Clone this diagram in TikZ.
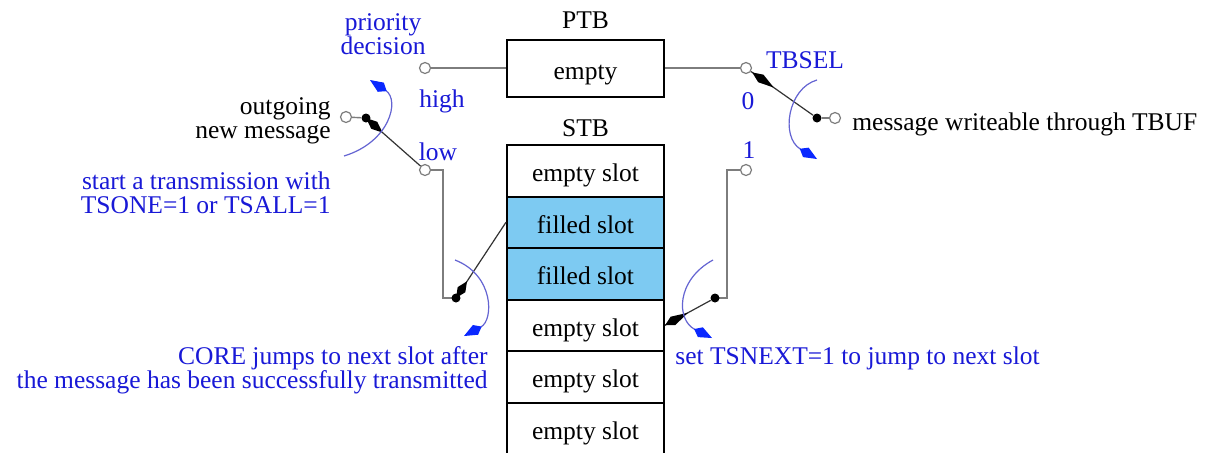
\documentclass[tikz,border=0pt]{standalone}
\usepackage{fontspec}
\setmainfont{Liberation Serif}
\usetikzlibrary{calc,arrows.meta}
\definecolor{txtblue}{RGB}{25,25,215}
\definecolor{arcblue}{RGB}{100,100,210}
\definecolor{tipblue}{RGB}{10,40,255}
\definecolor{slotfill}{RGB}{125,202,242}
\definecolor{wire}{RGB}{125,125,125}
\newcommand\bladekite[4]{\fill[black] (#1) -- ($(#1)!#4!(#2)!#3!90:(#2)$) -- (#2) -- ($(#1)!#4!(#2)!#3!-90:(#2)$) -- cycle;}
\begin{document}
\begin{tikzpicture}[x=0.5pt,y=-0.5pt,
  txt/.style={font=\fontsize{12.75pt}{12pt}\selectfont, inner sep=0pt},
  btxt/.style={txt, text=txtblue},
  box/.style={draw=black, line width=1pt, minimum width=78.5pt, minimum height=28.5pt, txt, text height=11pt, text depth=0pt},
  slot/.style={draw=black, line width=1pt, minimum width=78.5pt, minimum height=25.75pt, txt, text height=11pt, text depth=0pt},
  filled/.style={slot, fill=slotfill},
  contact/.style={circle, draw=wire, line width=0.6pt, fill=white, inner sep=0pt, minimum size=5.5pt},
  bullet/.style={circle, fill=black, inner sep=0pt, minimum size=4.5pt},
  wireline/.style={draw=wire, line width=0.7pt},
  bladeline/.style={draw=black!80, line width=0.6pt},
  turnarrow/.style={draw=arcblue, line width=0.6pt, -{Kite[length=10pt,width=5.5pt,inset=3.5pt,color=tipblue,fill=tipblue]}}
]
\fill[white] (0,0) rectangle (1211,452);
\useasboundingbox (0,0) rectangle (1211,452);

% buffers
\node[box] (ptb) at (585.5,68) {empty};
\node[txt] (ptbl) at (585.5,20) {PTB};
\node[txt] (stbl) at (585.5,128) {STB};
\node[slot] (s1) at (585.5,170.75) {empty slot};
\node[filled] (s2) at (585.5,222.25) {filled slot};
\node[filled] (s3) at (585.5,273.75) {filled slot};
\node[slot] (s4) at (585.5,325.25) {empty slot};
\node[slot] (s5) at (585.5,376.75) {empty slot};
\node[slot] (s6) at (585.5,428.25) {empty slot};

% contacts and pivots
\node[contact] (chigh) at (425,68) {};
\node[contact] (clow) at (425,170) {};
\node[contact] (cout) at (346,117) {};
\node[contact] (c0) at (746,68) {};
\node[contact] (c1) at (746,170) {};
\node[contact] (cmsg) at (835,118) {};
\coordinate (kl) at (443,170); \coordinate (kl2) at (443,298);
\coordinate (kr) at (727,170); \coordinate (kr2) at (727,298);

% wires
\draw[wireline] (chigh) -- (ptb);
\draw[wireline] (ptb) -- (c0);
\draw[wireline] (clow) -- (kl) -- (kl2) -- (456,298) coordinate (pblc);
\draw[wireline] (c1) -- (kr) -- (kr2) -- (715,298) coordinate (pbrc);

\node[bullet] (pl) at (366,118) {};
\node[bullet] (pr) at (817,118) {};
\node[bullet] (pbl) at (pblc) {};
\node[bullet] (pbr) at (pbrc) {};
\draw[wireline] (cout) -- (pl);
\draw[wireline] (cmsg) -- (pr);

% switch blades
\draw[bladeline] (pl) -- (clow);
\draw[bladeline] (pr) -- (c0);
\draw[bladeline] (pbl) -- (s2.west);
\draw[bladeline] (pbr) -- (s4.east);
\coordinate (tl) at ($(pl.center)!11pt!(clow.center)$);
\bladekite{pl.center}{tl}{2.3pt}{0.5}
\coordinate (t0a) at ($(c0.center)!3.8pt!(pr.center)$);
\coordinate (t0b) at ($(c0.center)!17pt!(pr.center)$);
\bladekite{t0a}{t0b}{2.3pt}{0.4}
\coordinate (tbl) at ($(pbl.center)!10pt!(s2.west)$);
\bladekite{pbl.center}{tbl}{2.3pt}{0.5}
\coordinate (tbra) at (s4.east);
\coordinate (tbrb) at ($(s4.east)!13pt!(pbr.center)$);
\bladekite{tbra}{tbrb}{2.4pt}{0.35}

% rotation arrows
\coordinate (a1s) at (344,156); \coordinate (a1e) at (370,80);
\draw[turnarrow] (a1s) .. controls (390,142) and (400,100) .. (a1e);
\coordinate (a2s) at (455,260); \coordinate (a2e) at (464,336);
\draw[turnarrow] (a2s) .. controls (494,275) and (494,320) .. (a2e);
\coordinate (a3s) at (713,260); \coordinate (a3e) at (712,338);
\draw[turnarrow] (a3s) .. controls (676,280) and (676,320) .. (a3e);
\coordinate (a4s) at (817,80); \coordinate (a4e) at (817,159);
\draw[turnarrow] (a4s) .. controls (788,88) and (780,137) .. (a4e);

% labels
\node[btxt, align=center] (pd) at (383,34) {priority\\decision};
\node[btxt] (high) at (442,101) {high};
\node[btxt] (low) at (438,152) {low};
\node[txt, align=right, anchor=east] (og) at (331,121) {outgoing\\new message};
\node[btxt, align=right, anchor=east] (st) at (331,193) {start a transmission with\\TSONE=1 or TSALL=1};
\node[btxt] (tbsel) at (805,60) {TBSEL};
\node[btxt] (l0) at (748,101) {0};
\node[btxt] (l1) at (749,150) {1};
\node[txt, anchor=west] (mw) at (852,124) {message writeable through TBUF};
\node[btxt, align=right, anchor=east] (core) at (488,370) {CORE jumps to next slot after\\the message has been successfully transmitted};
\node[btxt, anchor=west] (tsn) at (675,358) {set TSNEXT=1 to jump to next slot};
\end{tikzpicture}
\end{document}
